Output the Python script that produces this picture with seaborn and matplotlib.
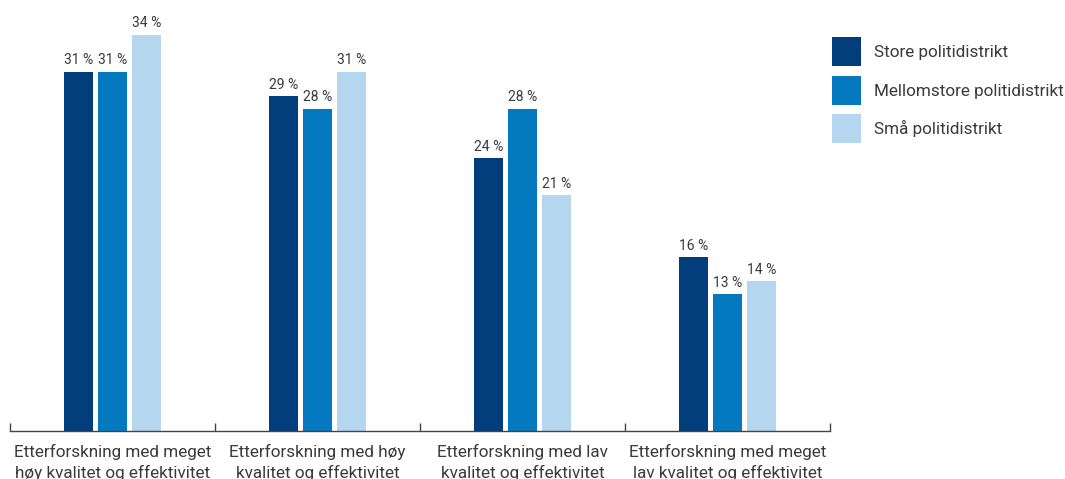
import pandas as pd
import matplotlib.pyplot as plt
import seaborn as sns
from matplotlib.patches import Patch

# Data
categories = [
    "Etterforskning med meget\nhøy kvalitet og effektivitet",
    "Etterforskning med høy\nkvalitet og effektivitet",
    "Etterforskning med lav\nkvalitet og effektivitet",
    "Etterforskning med meget\nlav kvalitet og effektivitet",
]
series = ["Store politidistrikt", "Mellomstore politidistrikt", "Små politidistrikt"]
store = [31, 29, 24, 16]
mellomstore = [31, 28, 28, 13]
smaa = [34, 31, 21, 14]
colors = ["#023d7c", "#0479bf", "#b5d6ef"]

rows = []
for name, vals in zip(series, [store, mellomstore, smaa]):
    for cat, v in zip(categories, vals):
        rows.append({"Kategori": cat, "Distrikt": name, "Andel": v})
df = pd.DataFrame(rows)

sns.set_style("white")
plt.rcParams['font.family'] = ['Roboto', 'DejaVu Sans']
text_col = "#3a3a3a"

fig = plt.figure(figsize=(10.65, 4.79), dpi=100)
ax = fig.add_axes([10 / 1065, 1 - 431 / 479, 820 / 1065, 0.879])

sns.barplot(data=df, x="Kategori", y="Andel", hue="Distrikt",
            palette=colors, saturation=1, width=0.5, gap=0.15,
            linewidth=0, legend=False, ax=ax)

for cont in ax.containers:
    ax.bar_label(cont, labels=[f"{v:.0f} %" for v in cont.datavalues],
                 padding=3, fontsize=10, color=text_col)

ax.set_xlim(-0.5, 3.5)
ax.set_ylim(1.87, 36)
ax.set_xlabel("")
ax.set_ylabel("")
ax.set_yticks([])
ax.set_xticks(range(len(categories)))
ax.set_xticklabels(categories, fontsize=12.3, color=text_col, linespacing=1.45)
ax.set_xticks([-0.5, 0.5, 1.5, 2.5, 3.5], minor=True)
ax.tick_params(axis="x", which="major", length=0, pad=9)
ax.tick_params(axis="x", which="minor", direction="in", length=6, width=1, color="#444444", bottom=True)
for s in ["top", "left", "right"]:
    ax.spines[s].set_visible(False)
ax.spines["bottom"].set_color("#444444")
ax.spines["bottom"].set_linewidth(1)

handles = [Patch(facecolor=c, edgecolor="none") for c in colors]
fig.legend(handles, series, loc="upper left", bbox_to_anchor=(817 / 1065, 1 - 22 / 479),
           frameon=False, fontsize=12.3, handlelength=1.7, handleheight=2.24,
           labelspacing=0.55, handletextpad=0.76, labelcolor=text_col)

fig.savefig("out.png", dpi=100)
